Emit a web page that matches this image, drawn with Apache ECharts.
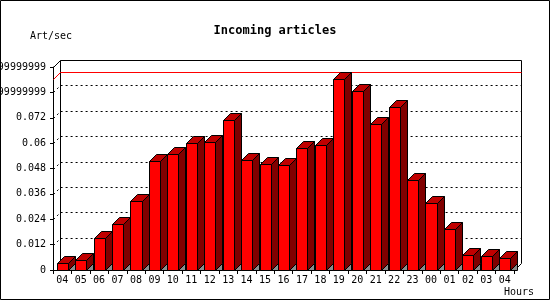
<!DOCTYPE html>
<html><head><meta charset="utf-8">
<script src="https://cdn.jsdelivr.net/npm/echarts@6/dist/echarts.min.js"></script>
<style>html,body{margin:0;padding:0;background:#fff}#c{width:550px;height:300px}</style>
</head><body><div id="c"></div>
<script>
const hours = ['04','05','06','07','08','09','10','11','12','13','14','15','16','17','18','19','20','21','22','23','00','01','02','03','04'];
const artPerSec = [0.0032,0.0046,0.0152,0.0216,0.0327,0.0515,0.0550,0.0600,0.0606,0.0709,0.0521,0.0501,0.0496,0.0577,0.0591,0.0903,0.0847,0.0690,0.0771,0.0425,0.0316,0.0193,0.0070,0.0065,0.0055];
const yTickLabels = ['0','0.012','0.024','0.036','0.048','0.06','0.072','0.08399999999','0.09599999999'];
const yTickValues = [0.012,0.024,0.036,0.048,0.06,0.072,0.084,0.096];
const yMin = 0, yMax = 0.096, yStep = 0.012;
const titleText = 'Incoming articles';
const yName = 'Art/sec';
const xName = 'Hours';

const D = 7;
const FONT = 'DejaVu Sans Mono';
const px = v => Math.round(v) + 0.5;

const chart = echarts.init(document.getElementById('c'), null, {renderer: 'canvas'});
const maxVal = Math.max.apply(null, artPerSec);

const option = {
  backgroundColor: '#fff',
  animation: false,
  title: {
    text: titleText, left: 'center', top: 20,
    textStyle: {fontFamily: FONT, fontSize: 12, fontWeight: 'bold', color: '#000'}
  },
  grid: {left: 53, right: 36, top: 67, bottom: 30, containLabel: false, outerBoundsMode: 'none'},
  xAxis: {
    type: 'category', data: hours, boundaryGap: true,
    axisLine: {show: true, lineStyle: {color: '#000', width: 1}},
    axisTick: {show: true, length: 4, lineStyle: {color: '#000'}},
    axisLabel: {interval: 0, fontFamily: FONT, fontSize: 10, color: '#000', margin: 5},
    splitLine: {show: false}
  },
  yAxis: {
    type: 'value', min: yMin, max: yMax, interval: yStep,
    axisLine: {show: true, lineStyle: {color: '#000', width: 1}},
    axisTick: {show: true, length: 3, lineStyle: {color: '#000'}},
    axisLabel: {fontFamily: FONT, fontSize: 10, color: '#000', margin: 7,
      formatter: v => yTickLabels[Math.round(v / yStep)]},
    splitLine: {show: false}
  },
  graphic: [
    {type: 'rect', shape: {x: 0.5, y: 0.5, width: 549, height: 299}, style: {fill: null, stroke: '#000', lineWidth: 1}, z: 100},
    {type: 'text', left: 30, top: 31, style: {text: yName, fontFamily: FONT, fontSize: 10, fill: '#000'}},
    {type: 'text', left: 504, top: 287, style: {text: xName, fontFamily: FONT, fontSize: 10, fill: '#000'}}
  ],
  series: [
    {
      type: 'custom', name: 'frame', z: 1, silent: true,
      data: [[0, yMax]],
      renderItem(params, api) {
        const cs = params.coordSys;
        const xl = px(cs.x), xr = px(cs.x + cs.width);
        const yt = px(api.coord([0, yMax])[1]);
        const y0 = px(api.coord([0, yMin])[1]);
        const st = {stroke: '#000', lineWidth: 1, fill: null};
        return {type: 'group', children: [
          {type: 'polyline', shape: {points: [[xl + D, y0 - D], [xl + D, yt - D], [xr + D, yt - D], [xr + D, y0 - D], [xr, y0]]}, style: st},
          {type: 'line', shape: {x1: xl, y1: yt, x2: xl + D, y2: yt - D}, style: st}
        ]};
      }
    },
    {
      type: 'custom', name: 'grid', z: 1, silent: true,
      data: yTickValues.filter(v => v < yMax - 1e-9).map(v => [0, v]),
      renderItem(params, api) {
        const cs = params.coordSys;
        const xl = px(cs.x), xr = px(cs.x + cs.width);
        const y = px(api.coord([0, api.value(1)])[1]);
        return {type: 'polyline', shape: {points: [[xl, y], [xl + D, y - D], [xr + D, y - D]]},
          style: {stroke: '#000', lineWidth: 1, fill: null, lineDash: [2, 3]}};
      }
    },
    {
      type: 'custom', name: 'max', z: 2, silent: true,
      data: [[0, maxVal]],
      renderItem(params, api) {
        const cs = params.coordSys;
        const xl = px(cs.x), xr = px(cs.x + cs.width);
        const y = px(api.coord([0, api.value(1)])[1]);
        return {type: 'polyline', shape: {points: [[xl, y], [xl + D, y - D], [xr + D, y - D]]},
          style: {stroke: '#ff0000', lineWidth: 1, fill: null}};
      }
    },
    {
      type: 'custom', name: 'Art/sec', z: 3,
      data: artPerSec.map((v, i) => [i, v]),
      renderItem(params, api) {
        const top = api.coord([api.value(0), api.value(1)]);
        const base = api.coord([api.value(0), 0]);
        const w = api.size([1, 0])[0] * 0.6;
        const xl = px(top[0] - w / 2), xr = px(top[0] + w / 2);
        const yt = px(top[1]), y0 = px(base[1]);
        const st = c => ({fill: c, stroke: '#000', lineWidth: 1});
        return {type: 'group', children: [
          {type: 'polygon', shape: {points: [[xr, y0], [xr + D, y0 - D], [xr + D, y0]]}, style: st('#8c8c8c')},
          {type: 'polygon', shape: {points: [[xr, yt], [xr + D, yt - D], [xr + D, y0 - D], [xr, y0]]}, style: st('#800000')},
          {type: 'polygon', shape: {points: [[xl, yt], [xl + D, yt - D], [xr + D, yt - D], [xr, yt]]}, style: st('#c00000')},
          {type: 'rect', shape: {x: xl, y: yt, width: xr - xl, height: y0 - yt}, style: st('#ff0000')}
        ]};
      }
    }
  ]
};
chart.setOption(option);
</script>
</body></html>
